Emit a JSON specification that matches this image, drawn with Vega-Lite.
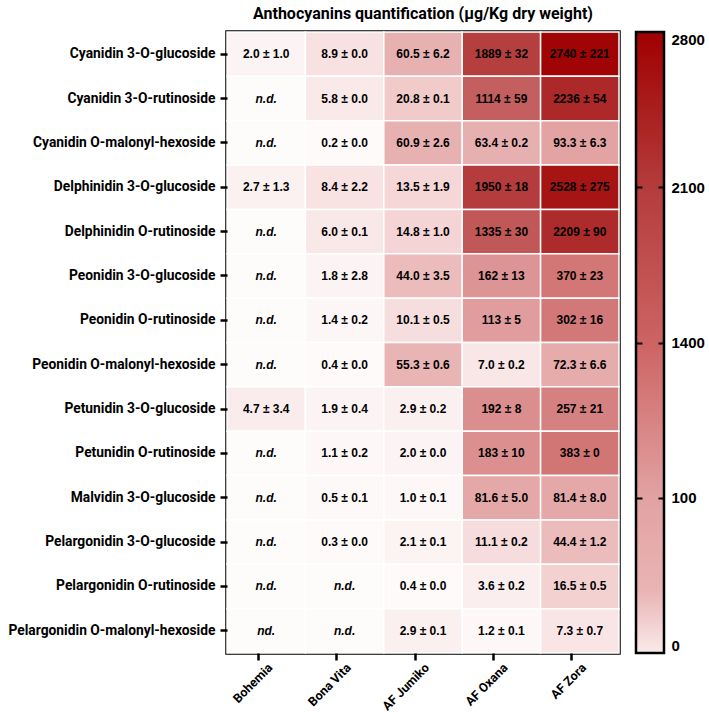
{
  "$schema": "https://vega.github.io/schema/vega-lite/v6.json",
  "padding": {"left": 6, "top": 4, "right": 2, "bottom": 2},
  "background": "white",
  "config": {"view": {"stroke": null}, "font": "Roboto"},
  "bounds": "flush",
  "spacing": 17,
  "datasets": {
    "cells": [
      {"compound": "Cyanidin 3-O-glucoside", "variety": "Bohemia", "mean": 2.0, "label": "2.0 ± 1.0"},
      {"compound": "Cyanidin 3-O-glucoside", "variety": "Bona Vita", "mean": 8.9, "label": "8.9 ± 0.0"},
      {"compound": "Cyanidin 3-O-glucoside", "variety": "AF Jumiko", "mean": 60.5, "label": "60.5 ± 6.2"},
      {"compound": "Cyanidin 3-O-glucoside", "variety": "AF Oxana", "mean": 1889, "label": "1889 ± 32"},
      {"compound": "Cyanidin 3-O-glucoside", "variety": "AF Zora", "mean": 2740, "label": "2740 ± 221"},
      {"compound": "Cyanidin 3-O-rutinoside", "variety": "Bohemia", "mean": 0, "label": "n.d."},
      {"compound": "Cyanidin 3-O-rutinoside", "variety": "Bona Vita", "mean": 5.8, "label": "5.8 ± 0.0"},
      {"compound": "Cyanidin 3-O-rutinoside", "variety": "AF Jumiko", "mean": 20.8, "label": "20.8 ± 0.1"},
      {"compound": "Cyanidin 3-O-rutinoside", "variety": "AF Oxana", "mean": 1114, "label": "1114 ± 59"},
      {"compound": "Cyanidin 3-O-rutinoside", "variety": "AF Zora", "mean": 2236, "label": "2236 ± 54"},
      {"compound": "Cyanidin O-malonyl-hexoside", "variety": "Bohemia", "mean": 0, "label": "n.d."},
      {"compound": "Cyanidin O-malonyl-hexoside", "variety": "Bona Vita", "mean": 0.2, "label": "0.2 ± 0.0"},
      {"compound": "Cyanidin O-malonyl-hexoside", "variety": "AF Jumiko", "mean": 60.9, "label": "60.9 ± 2.6"},
      {"compound": "Cyanidin O-malonyl-hexoside", "variety": "AF Oxana", "mean": 63.4, "label": "63.4 ± 0.2"},
      {"compound": "Cyanidin O-malonyl-hexoside", "variety": "AF Zora", "mean": 93.3, "label": "93.3 ± 6.3"},
      {"compound": "Delphinidin 3-O-glucoside", "variety": "Bohemia", "mean": 2.7, "label": "2.7 ± 1.3"},
      {"compound": "Delphinidin 3-O-glucoside", "variety": "Bona Vita", "mean": 8.4, "label": "8.4 ± 2.2"},
      {"compound": "Delphinidin 3-O-glucoside", "variety": "AF Jumiko", "mean": 13.5, "label": "13.5 ± 1.9"},
      {"compound": "Delphinidin 3-O-glucoside", "variety": "AF Oxana", "mean": 1950, "label": "1950 ± 18"},
      {"compound": "Delphinidin 3-O-glucoside", "variety": "AF Zora", "mean": 2528, "label": "2528 ± 275"},
      {"compound": "Delphinidin O-rutinoside", "variety": "Bohemia", "mean": 0, "label": "n.d."},
      {"compound": "Delphinidin O-rutinoside", "variety": "Bona Vita", "mean": 6.0, "label": "6.0 ± 0.1"},
      {"compound": "Delphinidin O-rutinoside", "variety": "AF Jumiko", "mean": 14.8, "label": "14.8 ± 1.0"},
      {"compound": "Delphinidin O-rutinoside", "variety": "AF Oxana", "mean": 1335, "label": "1335 ± 30"},
      {"compound": "Delphinidin O-rutinoside", "variety": "AF Zora", "mean": 2209, "label": "2209 ± 90"},
      {"compound": "Peonidin 3-O-glucoside", "variety": "Bohemia", "mean": 0, "label": "n.d."},
      {"compound": "Peonidin 3-O-glucoside", "variety": "Bona Vita", "mean": 1.8, "label": "1.8 ± 2.8"},
      {"compound": "Peonidin 3-O-glucoside", "variety": "AF Jumiko", "mean": 44.0, "label": "44.0 ± 3.5"},
      {"compound": "Peonidin 3-O-glucoside", "variety": "AF Oxana", "mean": 162, "label": "162 ± 13"},
      {"compound": "Peonidin 3-O-glucoside", "variety": "AF Zora", "mean": 370, "label": "370 ± 23"},
      {"compound": "Peonidin O-rutinoside", "variety": "Bohemia", "mean": 0, "label": "n.d."},
      {"compound": "Peonidin O-rutinoside", "variety": "Bona Vita", "mean": 1.4, "label": "1.4 ± 0.2"},
      {"compound": "Peonidin O-rutinoside", "variety": "AF Jumiko", "mean": 10.1, "label": "10.1 ± 0.5"},
      {"compound": "Peonidin O-rutinoside", "variety": "AF Oxana", "mean": 113, "label": "113 ± 5"},
      {"compound": "Peonidin O-rutinoside", "variety": "AF Zora", "mean": 302, "label": "302 ± 16"},
      {"compound": "Peonidin O-malonyl-hexoside", "variety": "Bohemia", "mean": 0, "label": "n.d."},
      {"compound": "Peonidin O-malonyl-hexoside", "variety": "Bona Vita", "mean": 0.4, "label": "0.4 ± 0.0"},
      {"compound": "Peonidin O-malonyl-hexoside", "variety": "AF Jumiko", "mean": 55.3, "label": "55.3 ± 0.6"},
      {"compound": "Peonidin O-malonyl-hexoside", "variety": "AF Oxana", "mean": 7.0, "label": "7.0 ± 0.2"},
      {"compound": "Peonidin O-malonyl-hexoside", "variety": "AF Zora", "mean": 72.3, "label": "72.3 ± 6.6"},
      {"compound": "Petunidin 3-O-glucoside", "variety": "Bohemia", "mean": 4.7, "label": "4.7 ± 3.4"},
      {"compound": "Petunidin 3-O-glucoside", "variety": "Bona Vita", "mean": 1.9, "label": "1.9 ± 0.4"},
      {"compound": "Petunidin 3-O-glucoside", "variety": "AF Jumiko", "mean": 2.9, "label": "2.9 ± 0.2"},
      {"compound": "Petunidin 3-O-glucoside", "variety": "AF Oxana", "mean": 192, "label": "192 ± 8"},
      {"compound": "Petunidin 3-O-glucoside", "variety": "AF Zora", "mean": 257, "label": "257 ± 21"},
      {"compound": "Petunidin O-rutinoside", "variety": "Bohemia", "mean": 0, "label": "n.d."},
      {"compound": "Petunidin O-rutinoside", "variety": "Bona Vita", "mean": 1.1, "label": "1.1 ± 0.2"},
      {"compound": "Petunidin O-rutinoside", "variety": "AF Jumiko", "mean": 2.0, "label": "2.0 ± 0.0"},
      {"compound": "Petunidin O-rutinoside", "variety": "AF Oxana", "mean": 183, "label": "183 ± 10"},
      {"compound": "Petunidin O-rutinoside", "variety": "AF Zora", "mean": 383, "label": "383 ± 0"},
      {"compound": "Malvidin 3-O-glucoside", "variety": "Bohemia", "mean": 0, "label": "n.d."},
      {"compound": "Malvidin 3-O-glucoside", "variety": "Bona Vita", "mean": 0.5, "label": "0.5 ± 0.1"},
      {"compound": "Malvidin 3-O-glucoside", "variety": "AF Jumiko", "mean": 1.0, "label": "1.0 ± 0.1"},
      {"compound": "Malvidin 3-O-glucoside", "variety": "AF Oxana", "mean": 81.6, "label": "81.6 ±  5.0"},
      {"compound": "Malvidin 3-O-glucoside", "variety": "AF Zora", "mean": 81.4, "label": "81.4 ± 8.0"},
      {"compound": "Pelargonidin 3-O-glucoside", "variety": "Bohemia", "mean": 0, "label": "n.d."},
      {"compound": "Pelargonidin 3-O-glucoside", "variety": "Bona Vita", "mean": 0.3, "label": "0.3 ±  0.0"},
      {"compound": "Pelargonidin 3-O-glucoside", "variety": "AF Jumiko", "mean": 2.1, "label": "2.1 ±  0.1"},
      {"compound": "Pelargonidin 3-O-glucoside", "variety": "AF Oxana", "mean": 11.1, "label": "11.1 ± 0.2"},
      {"compound": "Pelargonidin 3-O-glucoside", "variety": "AF Zora", "mean": 44.4, "label": "44.4 ± 1.2"},
      {"compound": "Pelargonidin O-rutinoside", "variety": "Bohemia", "mean": 0, "label": "n.d."},
      {"compound": "Pelargonidin O-rutinoside", "variety": "Bona Vita", "mean": 0, "label": "n.d."},
      {"compound": "Pelargonidin O-rutinoside", "variety": "AF Jumiko", "mean": 0.4, "label": "0.4 ± 0.0"},
      {"compound": "Pelargonidin O-rutinoside", "variety": "AF Oxana", "mean": 3.6, "label": "3.6 ± 0.2"},
      {"compound": "Pelargonidin O-rutinoside", "variety": "AF Zora", "mean": 16.5, "label": "16.5 ±  0.5"},
      {"compound": "Pelargonidin O-malonyl-hexoside", "variety": "Bohemia", "mean": 0, "label": "nd."},
      {"compound": "Pelargonidin O-malonyl-hexoside", "variety": "Bona Vita", "mean": 0, "label": "n.d."},
      {"compound": "Pelargonidin O-malonyl-hexoside", "variety": "AF Jumiko", "mean": 2.9, "label": "2.9 ± 0.1"},
      {"compound": "Pelargonidin O-malonyl-hexoside", "variety": "AF Oxana", "mean": 1.2, "label": "1.2 ± 0.1"},
      {"compound": "Pelargonidin O-malonyl-hexoside", "variety": "AF Zora", "mean": 7.3, "label": "7.3 ±  0.7"}
    ]
  },
  "hconcat": [
    {
      "width": 392,
      "height": 621,
      "title": {"text": "Anthocyanins quantification (µg/Kg dry weight)", "font": "Roboto", "fontSize": 16, "fontWeight": "bold", "color": "black", "anchor": "middle", "offset": 9},
      "view": {"stroke": "black", "strokeWidth": 3.5},
      "data": {"name": "cells"},
      "encoding": {
        "x": {
          "field": "variety", "type": "nominal",
          "sort": ["Bohemia", "Bona Vita", "AF Jumiko", "AF Oxana", "AF Zora"],
          "title": null,
          "axis": {"labelAngle": -45, "labelFont": "Roboto", "labelFontWeight": "bold", "labelFontSize": 12.5, "labelColor": "black", "tickColor": "black", "tickWidth": 2.5, "tickSize": 7, "labelPadding": 1, "domain": false, "bandPosition": 0.4}
        },
        "y": {
          "field": "compound", "type": "nominal",
          "sort": ["Cyanidin 3-O-glucoside", "Cyanidin 3-O-rutinoside", "Cyanidin O-malonyl-hexoside", "Delphinidin 3-O-glucoside", "Delphinidin O-rutinoside", "Peonidin 3-O-glucoside", "Peonidin O-rutinoside", "Peonidin O-malonyl-hexoside", "Petunidin 3-O-glucoside", "Petunidin O-rutinoside", "Malvidin 3-O-glucoside", "Pelargonidin 3-O-glucoside", "Pelargonidin O-rutinoside", "Pelargonidin O-malonyl-hexoside"],
          "title": null,
          "axis": {"labelFont": "Roboto", "labelFontWeight": "bold", "labelFontSize": 13.8, "labelLimit": 400, "labelColor": "black", "tickColor": "black", "tickWidth": 2.5, "tickSize": 7, "labelPadding": 5, "domain": false}
        }
      },
      "layer": [
        {
          "mark": {"type": "rect", "stroke": "white", "strokeWidth": 1.5},
          "encoding": {
            "color": {
              "field": "mean", "type": "quantitative", "legend": null,
              "scale": {
                "domain": [0, 3, 10, 20, 60, 100, 300, 1400, 2000, 2800],
                "range": ["#fefbfb", "#fbf0f0", "#f7dede", "#f1caca", "#e8b1b1", "#e2a0a0", "#d37878", "#bf5656", "#b33a3a", "#a00000"],
                "interpolate": "rgb"
              }
            }
          }
        },
        {
          "transform": [{"filter": "indexof(datum.label, 'd.') < 0"}],
          "mark": {"type": "text", "font": "Liberation Sans", "fontWeight": "bold", "fontSize": 12, "color": "black"},
          "encoding": {"text": {"field": "label"}}
        },
        {
          "transform": [{"filter": "indexof(datum.label, 'd.') >= 0"}],
          "mark": {"type": "text", "font": "Liberation Sans", "fontWeight": "bold", "fontStyle": "italic", "fontSize": 12, "color": "black"},
          "encoding": {"text": {"field": "label"}}
        }
      ]
    },
    {
      "width": 28,
      "height": 621,
      "view": {
        "stroke": "black",
        "strokeWidth": 2.5,
        "fill": {
          "gradient": "linear", "x1": 0, "y1": 0, "x2": 0, "y2": 1,
          "stops": [
            {"offset": 0, "color": "#a00000"},
            {"offset": 0.25, "color": "#b43c3c"},
            {"offset": 0.5, "color": "#cd6363"},
            {"offset": 0.75, "color": "#e2a2a2"},
            {"offset": 0.9, "color": "#e9b4b4"},
            {"offset": 1, "color": "#faeaea"}
          ]
        }
      },
      "data": {"values": [{"bar": "scale"}]},
      "resolve": {"axis": {"y": "independent"}},
      "encoding": {
        "x": {"datum": 0, "type": "quantitative", "scale": {"domain": [0, 1], "nice": false, "zero": false}, "axis": null},
        "x2": {"datum": 1}
      },
      "layer": [
        {
          "mark": {"type": "rule", "opacity": 0},
          "encoding": {
            "y": {
              "datum": 0, "type": "quantitative",
              "scale": {"domain": [0, 4], "nice": false, "zero": false},
              "axis": {"orient": "right", "values": [0, 1, 2, 3, 4], "labelExpr": "['0','100','1400','2100','2800'][datum.value]", "labelFont": "Liberation Sans", "labelFontWeight": "bold", "labelFontSize": 15, "labelColor": "black", "ticks": false, "labelPadding": 7, "labelFlush": true, "domain": false, "grid": false, "title": null, "minExtent": 0}
            }
          }
        },
        {
          "mark": {"type": "rule", "opacity": 0},
          "encoding": {
            "y": {
              "datum": 0, "type": "quantitative",
              "axis": {"orient": "left", "values": [1, 2, 3], "labels": false, "ticks": false, "domain": false, "grid": true, "gridColor": "black", "gridWidth": 2, "gridDash": [6, 16, 6, 0], "gridOpacity": 1, "title": null, "zindex": 1, "minExtent": 0}
            }
          }
        }
      ]
    }
  ]
}
